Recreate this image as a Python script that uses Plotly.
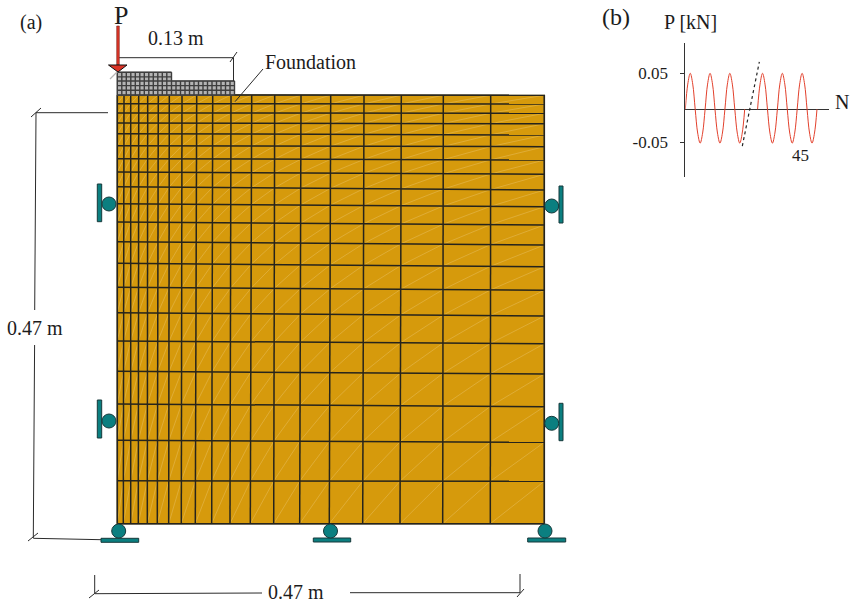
import plotly.graph_objects as go

# --- mesh grid (reference picture coordinates, left/right and top/bottom edge readings)
row_left = [95, 103.7, 113, 123, 133.7, 145.7, 158.7, 172, 186.7, 203.7, 222, 241.7, 263.3, 287.3, 312.7, 341, 371.3, 404, 440.3, 480.7, 523.7]
row_right = [95.3, 104, 113.3, 123.7, 135, 146.7, 160, 174.3, 190, 206.7, 225, 245, 266.7, 290.3, 316, 343.7, 374, 406.7, 442.3, 481.3, 523.7]
col_top = [117.3, 124, 130.7, 138.7, 147.7, 158.3, 169.3, 182, 196.7, 212.7, 231, 251.7, 274.7, 301, 330.7, 364, 401.3, 443.3, 490.7, 544.3]
col_bottom = [117.3, 123.3, 130.7, 138.3, 147.3, 157.3, 168.7, 181.3, 195.3, 211.7, 230, 250.3, 273.7, 299.7, 329.3, 362.7, 400, 442.7, 490.3, 544.3]

# --- foundation grid
found_x = [117.3, 121.8, 126.3, 130.8, 135.3, 139.8, 144.3, 148.8, 153.3, 157.8, 162.3, 166.8, 171.5,
           176, 180.5, 185, 189.5, 194, 198.5, 203, 207.5, 212, 216.5, 221, 225.5, 230, 234.5]
found_y = [72.3, 76.9, 81, 85.6, 90.2, 95]
found_step_col = 12   # columns under the raised part

# --- rollers
roller_x = [109, 109, 551.7, 551.7, 118.7, 330.5, 545]
roller_y = [204, 421, 206, 423.3, 531, 531, 531]
plate_x0 = [97.3, 97.3, 559, 559, 101, 313.3, 527.7]
plate_x1 = [101.7, 101.7, 563, 563, 138.7, 350.7, 565.7]
plate_y0 = [184, 400, 186, 403.3, 538.3, 538, 538]
plate_y1 = [221.7, 438, 223, 440.7, 542.3, 542, 542]

# --- dimension lines: (x list, y list)
dim_lines = [
    ([118, 233.5], [57.7, 57.7]), ([230, 237], [62, 52]), ([233.5, 233.5], [57.7, 81]),
    ([263, 235], [69, 101.7]),
    ([36, 108], [112.7, 112.7]), ([31, 41], [117, 108]), ([36, 34.7], [112.7, 310]),
    ([34.6, 33.3], [345, 538]), ([33.3, 101], [538.3, 539.7]), ([28, 38], [541, 533]),
    ([94.7, 94.7], [575, 593.5]), ([89, 99], [598, 590]), ([95, 262], [593.7, 593]),
    ([350, 520], [592.7, 592.7]), ([520, 520], [574, 593]), ([517, 524], [597, 589]),
]

# --- load arrow
shaft_x = [116.7, 119.3, 119.3, 116.7, 116.7]
shaft_y = [26, 26, 65, 65, 26]
head_x = [108.5, 127, 118, 108.5]
head_y = [65, 65, 72, 65]

# --- load history inset
cycle_a = [0, .125, .25, .375, .5, .625, .75, .875, 1, 1.125, 1.25, 1.375, 1.5, 1.625, 1.75, 1.875, 2, 2.125, 2.25, 2.375, 2.5, 2.625, 2.75, 2.875, 3]
load_a = [0, .035, .05, .035, 0, -.033, -.047, -.033, 0, .035, .05, .035, 0, -.033, -.047, -.033, 0, .035, .05, .035, 0, -.033, -.047, -.033, 0]
cycle_b = [3.65, 3.775, 3.9, 4.025, 4.15, 4.275, 4.4, 4.525, 4.65, 4.775, 4.9, 5.025, 5.15, 5.275, 5.4, 5.525, 5.65, 5.775, 5.9, 6.025, 6.15, 6.275, 6.4, 6.525, 6.65]
load_b = load_a
cycle_dots = [2.88, 3.74]
load_dots = [-.051, .066]
tick_vals = [.05, -.0458]
tick_text = ["0.05", "-0.05"]

FONT = "Liberation Serif"
INK = "#2b2b2b"


def bilinear(i, j):
    """Corner of mesh cell: column i, row j."""
    fy = (row_left[j] - 95) / (523.7 - 95)
    fx = (col_top[i] - 117.3) / (544.3 - 117.3)
    x = col_top[i] + (col_bottom[i] - col_top[i]) * fy
    y = row_left[j] + (row_right[j] - row_left[j]) * fx
    return x, y


fig = go.Figure()
ink_line = dict(color=INK, width=1)
px = dict(xaxis="x", yaxis="y", showlegend=False, hoverinfo="skip")

# mesh body
fig.add_trace(go.Scatter(x=[117.3, 544.3, 544.3, 117.3, 117.3], y=[95, 95.3, 523.7, 523.7, 95],
                         mode="lines", fill="toself", fillcolor="#d69a0c",
                         line=dict(color="#6a6448", width=1.5), **px))
# diagonals
dx, dy = [], []
for i in range(len(col_top) - 1):
    for j in range(len(row_left) - 1):
        x0, y0 = bilinear(i, j + 1)
        x1, y1 = bilinear(i + 1, j)
        dx += [x0, x1, None]
        dy += [y0, y1, None]
fig.add_trace(go.Scatter(x=dx, y=dy, mode="lines", line=dict(color="#e3b549", width=0.7), **px))
# rows and columns
gx, gy = [], []
for j in range(len(row_left)):
    gx += [117.3, 544.3, None]
    gy += [row_left[j], row_right[j], None]
for i in range(len(col_top)):
    gx += [col_top[i], col_bottom[i], None]
    gy += [95, 523.7, None]
fig.add_trace(go.Scatter(x=gx, y=gy, mode="lines", line=dict(color="#26241c", width=1.5), **px))

# foundation
fx0, fx1, fxs = found_x[0], found_x[-1], found_x[found_step_col]
fig.add_trace(go.Scatter(x=[fx0, fxs, fxs, fx1, fx1, fx0, fx0],
                         y=[found_y[0], found_y[0], found_y[2], found_y[2], found_y[-1], found_y[-1], found_y[0]],
                         mode="lines", fill="toself", fillcolor="#b4b4b4",
                         line=dict(color="#6e6e6e", width=1), **px))
fgx, fgy = [], []
for k, x in enumerate(found_x):
    fgx += [x, x, None]
    fgy += [found_y[0] if k <= found_step_col else found_y[2], found_y[-1], None]
for k, y in enumerate(found_y):
    fgx += [fx0, fxs if k < 2 else fx1, None]
    fgy += [y, y, None]
fig.add_trace(go.Scatter(x=fgx, y=fgy, mode="lines", line=dict(color="#3e3e3e", width=1.4), **px))

# dimension lines
for xs, ys in dim_lines:
    fig.add_trace(go.Scatter(x=xs, y=ys, mode="lines", line=ink_line, **px))

# small cross at the load point
fig.add_trace(go.Scatter(x=[110, 123], y=[79, 66], mode="lines", line=dict(color="#b5b5b5", width=1.2), **px))

# arrow
fig.add_trace(go.Scatter(x=shaft_x, y=shaft_y, mode="lines", fill="toself", fillcolor="#dc3326",
                         line=dict(color="#7a2a22", width=0.6), **px))
fig.add_trace(go.Scatter(x=head_x, y=head_y, mode="lines", fill="toself", fillcolor="#dc3326",
                         line=dict(color="#111111", width=1), **px))

# roller plates and rollers
for x0, x1, y0, y1 in zip(plate_x0, plate_x1, plate_y0, plate_y1):
    fig.add_trace(go.Scatter(x=[x0, x1, x1, x0, x0], y=[y0, y0, y1, y1, y0], mode="lines", fill="toself",
                             fillcolor="#0b7f80", line=dict(color="#17393a", width=1), **px))
fig.add_trace(go.Scatter(x=roller_x, y=roller_y, mode="markers",
                         marker=dict(size=14, color="#0b7f80", line=dict(color="#17393a", width=1)), **px))

# inset
inset = dict(xaxis="x2", yaxis="y2", showlegend=False, hoverinfo="skip")
red = dict(color="#e2402c", width=1, shape="spline")
fig.add_trace(go.Scatter(x=cycle_a, y=load_a, mode="lines", line=red, **inset))
fig.add_trace(go.Scatter(x=cycle_b, y=load_b, mode="lines", line=red, **inset))
fig.add_trace(go.Scatter(x=cycle_dots, y=load_dots, mode="lines",
                         line=dict(color="#222222", width=1.2, dash="dot"), **inset))

texts = [
    ("(a)", 31, 22, 20), ("P", 121, 15, 26), ("0.13 m", 176, 38, 20), ("Foundation", 310.5, 62, 20),
    ("0.47 m", 34.5, 328, 20), ("0.47 m", 296, 592, 20),
    ("(b)", 616, 17, 24), ("P [kN]", 690, 22, 20), ("N", 842, 102, 20), ("45", 800, 155, 17),
]
annots = [dict(text=t, x=x, y=y, xref="x", yref="y", showarrow=False, xanchor="center", yanchor="middle",
               font=dict(family=FONT, size=s, color="#1c1c1c")) for t, x, y, s in texts]

W, H = 854, 603
fig.update_layout(
    width=W, height=H, margin=dict(l=0, r=0, t=0, b=0), paper_bgcolor="white", plot_bgcolor="rgba(0,0,0,0)",
    showlegend=False, annotations=annots,
    xaxis=dict(range=[0, W], domain=[0, 1], visible=False, fixedrange=True),
    yaxis=dict(range=[H, 0], domain=[0, 1], visible=False, fixedrange=True),
    xaxis2=dict(range=[0, 143.7 / 19.8], domain=[685.3 / W, 829 / W], anchor="y2",
                showgrid=False, zeroline=False, showticklabels=False, showline=False, ticks=""),
    yaxis2=dict(range=[-(177 - 109.3) / 720, (109.3 - 43) / 720], domain=[1 - 177 / H, 1 - 43 / H], anchor="x2",
                showgrid=False, zeroline=True, zerolinecolor="#333333", zerolinewidth=1,
                showline=True, linecolor="#333333", linewidth=1,
                ticks="outside", ticklen=4, tickcolor="#333333", tickvals=tick_vals, ticktext=tick_text,
                ticklabelstandoff=9, tickfont=dict(family=FONT, size=17, color="#1c1c1c")),
)
fig.write_html("out.html", config={"displayModeBar": False},
               post_script="document.body.style.margin='0';document.documentElement.style.overflow='hidden';")
